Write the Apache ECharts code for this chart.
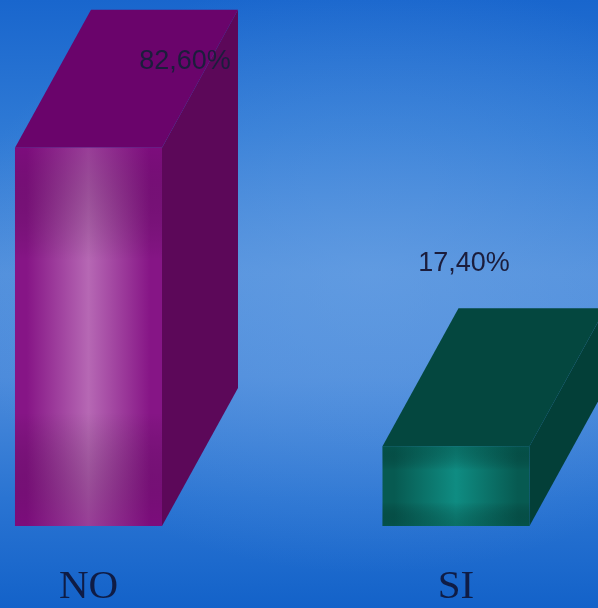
<!DOCTYPE html>
<html>
<head>
<meta charset="utf-8">
<script src="https://cdn.jsdelivr.net/npm/echarts@6/dist/echarts.min.js"></script>
<style>
html,body{margin:0;padding:0;width:598px;height:608px;overflow:hidden;}
#bg{position:absolute;left:0;top:0;width:598px;height:608px;
background:
 radial-gradient(ellipse 420px 300px at 62% 45%, rgba(110,165,230,0.5) 0%, rgba(110,165,230,0) 100%),
 linear-gradient(to bottom, #1966cd 0%, #2f7ad5 22%, #5290dc 45%, #4c8bdb 62%, #2a74d2 82%, #1362c9 100%);}
#chart{position:absolute;left:0;top:0;width:598px;height:608px;}
</style>
</head>
<body>
<div id="bg"></div>
<div id="chart"></div>
<script>
const categories = ['NO', 'SI'];
const values = [82.6, 17.4];
const valueLabels = ['82,60%', '17,40%'];

const palettes = [
  {edge: '#861586', mid: '#b668b4', shade: 'rgba(110,0,110,0.4)', top: '#6a046b', side: '#5c0859'},
  {edge: '#075a51', mid: '#0f8c82', shade: 'rgba(2,70,62,0.4)', top: '#04473f', side: '#033f38'}
];

const chart = echarts.init(document.getElementById('chart'), null, {renderer: 'canvas'});

const DX = 76, DY = -138;

function renderItem(params, api) {
  const idx = api.value(0);
  const v = api.value(1);
  const topPt = api.coord([idx, v]);
  const basePt = api.coord([idx, 0]);
  const w = api.size([0.4, 0])[0];
  const x0 = topPt[0] - w / 2, x1 = topPt[0] + w / 2;
  const yT = topPt[1], yB = basePt[1];
  const p = palettes[idx];
  let lx = topPt[0] + 8, ly = yT + DY - 45;
  if (ly < 40) { lx = x1 + 23; ly = yT + DY + 52; }
  return {
    type: 'group',
    children: [
      {type: 'polygon', shape: {points: [[x1, yT], [x1 + DX, yT + DY], [x1 + DX, yB + DY], [x1, yB]]},
       style: {fill: p.side}},
      {type: 'polygon', shape: {points: [[x0, yT], [x1, yT], [x1 + DX, yT + DY], [x0 + DX, yT + DY]]},
       style: {fill: p.top}},
      {type: 'rect', shape: {x: x0, y: yT, width: w, height: yB - yT},
       style: {fill: new echarts.graphic.LinearGradient(0, 0, 1, 0, [
         {offset: 0, color: p.edge}, {offset: 0.08, color: p.edge},
         {offset: 0.5, color: p.mid},
         {offset: 0.92, color: p.edge}, {offset: 1, color: p.edge}])}},
      {type: 'rect', shape: {x: x0, y: yT, width: w, height: yB - yT},
       style: {fill: new echarts.graphic.LinearGradient(0, 0, 0, 1, [
         {offset: 0, color: p.shade}, {offset: 0.3, color: 'rgba(0,0,0,0)'},
         {offset: 0.7, color: 'rgba(0,0,0,0)'}, {offset: 1, color: p.shade}])}},
      {type: 'text', x: lx, y: ly,
       style: {text: valueLabels[idx], fill: '#1b1d3c', font: '27px "Liberation Sans", Arial, sans-serif',
               align: 'center', verticalAlign: 'middle'}}
    ]
  };
}

chart.setOption({
  backgroundColor: 'transparent',
  animation: false,
  grid: {left: 0, right: 0, top: 68, bottom: 82, containLabel: false},
  xAxis: {
    type: 'value', min: -0.2408, max: 1.3864,
    axisLine: {show: false}, axisTick: {show: false}, splitLine: {show: false},
    axisLabel: {customValues: [0, 1], formatter: function (v) { return categories[Math.round(v)]; },
      margin: 61, verticalAlign: 'middle', color: '#0f1c45',
      fontFamily: '"Liberation Serif", "DejaVu Serif", serif', fontSize: 41}
  },
  yAxis: {type: 'value', min: 0, max: 100, show: false},
  series: [{
    type: 'custom', renderItem: renderItem, clip: false,
    data: values.map((v, i) => [i, v])
  }]
});
</script>
</body>
</html>
